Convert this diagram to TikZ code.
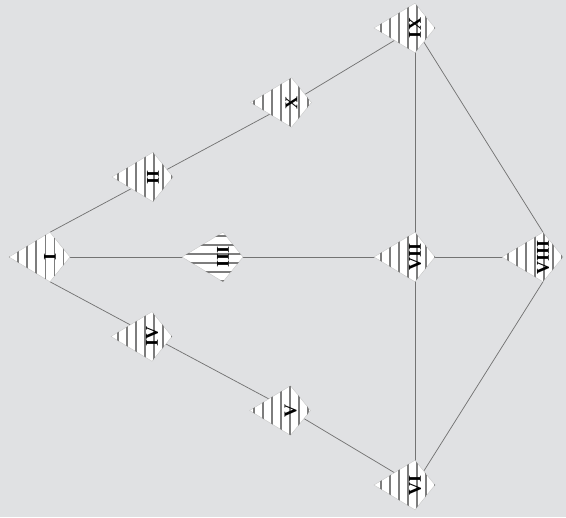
\documentclass[tikz,border=0pt]{standalone}
\usepackage{graphicx}
\usepackage{fontspec}
\setmainfont{Liberation Serif}
\usetikzlibrary{positioning,calc,patterns.meta,backgrounds}
\definecolor{bggray}{RGB}{224,225,227}
\definecolor{linkgray}{RGB}{115,115,115}
\definecolor{hatchgray}{RGB}{125,125,125}
\tikzset{
  vnode/.style={inner sep=0pt, minimum height=36.75pt, font=\fontsize{13.5}{15}\selectfont\bfseries},
  link/.style={draw=linkgray, line width=0.55pt},
  kitebase/.style={fill=white, draw=gray!45, line width=0.3pt},
  kite/.style={kitebase, postaction={pattern={Lines[angle=90,distance=6.8pt,line width=1.2pt]}, pattern color=hatchgray}},
  kiteflat/.style={kitebase, postaction={pattern={Lines[angle=0,distance=6.8pt,line width=1.2pt]}, pattern color=hatchgray}},
}
\begin{document}
\begin{tikzpicture}[x=0.75pt, y=-0.75pt]
\node[vnode] (I) at (50,257) {\rotatebox{90}{I}};
\node[vnode] (II) at (153,177) {\rotatebox{90}{II}};
\node[vnode] (X) at (291.5,102.5) {\rotatebox{90}{X}};
\node[vnode] (IX) at (415,28) {\rotatebox{90}{IX}};
\node[vnode] (III) at (223,257) {\rotatebox{90}{III}};
\node[vnode] (VII) at (415,257) {\rotatebox{90}{VII}};
\node[vnode] (VIII) at (543,257) {\rotatebox{90}{VIII}};
\node[vnode] (IV) at (152,336.5) {\rotatebox{90}{IV}};
\node[vnode] (V) at (290.5,410.5) {\rotatebox{90}{V}};
\node[vnode] (VI) at (415,485) {\rotatebox{90}{VI}};
\begin{pgfonlayer}{background}
  \fill[bggray] (0,0) rectangle (566,517);
  \foreach \a/\b in {I.north/II.center, II.center/X.center, X.center/IX.center,
      I.center/III.center, III.center/VII.center, VII.center/VIII.center,
      I.south/IV.center, IV.center/V.center, V.center/VI.center,
      IX.center/VII.center, VII.center/VI.center, IX.center/VIII.north, VIII.south/VI.center}
    \draw[link] (\a) -- (\b);
  \foreach \n in {I,II,X,IX,VII,VIII,IV,V,VI}
    \path[kite] ([xshift=-30.75pt]\n.center) -- (\n.north) -- ([xshift=15pt]\n.center) -- (\n.south) -- cycle;
  \path[kiteflat] ([xshift=-30.75pt]III.center) -- (III.north) -- ([xshift=15pt]III.center) -- (III.south) -- cycle;
\end{pgfonlayer}
\end{tikzpicture}
\end{document}
